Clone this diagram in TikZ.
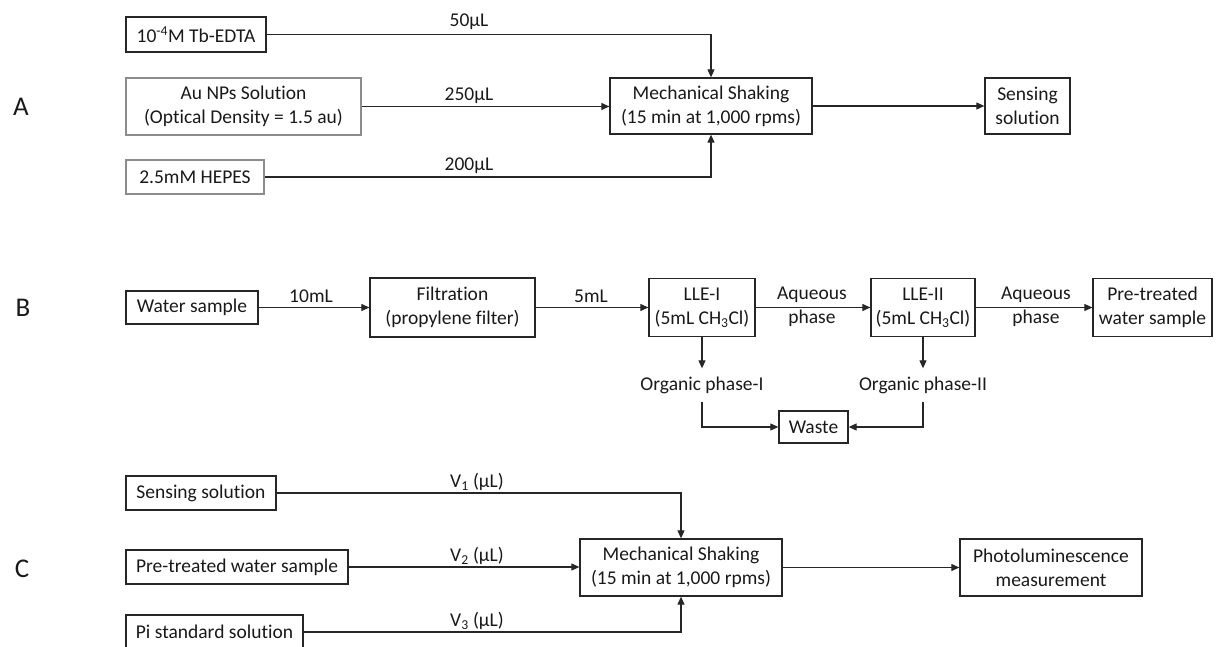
\documentclass[tikz,border=0pt]{standalone}
\usepackage{fontspec}
\setmainfont{Carlito}[Ligatures={NoCommon,NoContextual}]
\usetikzlibrary{arrows.meta}
\begin{document}
\begin{tikzpicture}[x=1pt,y=-1pt,
  every node/.style={font=\fontsize{19.5}{24}\selectfont, text=black!90},
  box/.style={draw=black!85, line width=1.3pt, align=center, inner sep=2pt, rectangle},
  greybox/.style={box, draw=black!45},
  lbl/.style={inner sep=0pt, anchor=base},
  txt/.style={inner sep=0pt, align=center},
  panel/.style={font=\fontsize{27}{30}\selectfont, inner sep=0pt},
  conn/.style={draw=black!85, line width=1.1pt},
  arr/.style={conn, -{Triangle[length=8pt,width=7pt]}}]
\useasboundingbox (0,0) rectangle (1216,647);

% ---------- Panel A ----------
\node[panel] (pA) at (21,107) {A};
\node[box, minimum width=140pt, minimum height=35pt] (tb) at (196,34.5) {10\textsuperscript{-4}M Tb-EDTA};
\node[greybox, minimum width=235pt, minimum height=57pt] (au) at (243.5,106.5) {Au NPs Solution\\(Optical Density = 1.5 au)};
\node[greybox, minimum width=138pt, minimum height=34pt] (hepes) at (195,177) {2.5mM HEPES};
\node[box, minimum width=202pt, minimum height=56pt] (mechA) at (711,106) {Mechanical Shaking\\(15 min at 1,000 rpms)};
\node[box, minimum width=85pt, minimum height=56pt] (sensA) at (1027.5,106) {Sensing\\solution};

\draw[arr] (tb.east) -| (mechA.north);
\draw[arr] (au.east) -- (au.east -| mechA.west);
\draw[arr] (hepes.east) -| (mechA.south);
\draw[arr] (mechA.east) -- (sensA.west);
\node[lbl] (l50) at (469,27) {50μL};
\node[lbl] (l250) at (469,101) {250μL};
\node[lbl] (l200) at (469,171) {200μL};

% ---------- Panel B ----------
\node[panel] (pB) at (23,308) {B};
\node[box, minimum width=132pt, minimum height=33pt] (water) at (192,307.5) {Water sample};
\node[box, minimum width=165pt, minimum height=59pt] (filt) at (452.5,307.5) {Filtration\\(propylene filter)};
\node[box, minimum width=106pt, minimum height=58pt] (lle1) at (702,307.5) {LLE-I\\(5mL CH\textsubscript{3}Cl)};
\node[box, minimum width=104pt, minimum height=58pt] (lle2) at (923,307.5) {LLE-II\\(5mL CH\textsubscript{3}Cl)};
\node[box, minimum width=119pt, minimum height=58pt, inner sep=1pt] (pre) at (1152.5,307.5) {Pre-treated\\water sample};
\node[box, minimum width=69pt, minimum height=32pt] (waste) at (813.5,427) {Waste};
\node[txt, inner ysep=8pt] (org1) at (702,385) {Organic phase-I};
\node[txt, inner ysep=8pt] (org2) at (923,385) {Organic phase-II};

\draw[arr] (water.east) -- (filt.west);
\draw[arr] (filt.east) -- (lle1.west);
\draw[arr] (lle1.east) -- (lle2.west);
\draw[arr] (lle2.east) -- (pre.west);
\draw[arr] (lle1.south) -- (org1.north);
\draw[arr] (lle2.south) -- (org2.north);
\draw[arr] (org1.south) |- (waste.west);
\draw[arr] (org2.south) |- (waste.east);
\node[lbl] (l10) at (311,302) {10mL};
\node[lbl] (l5) at (591,302) {5mL};
\node[txt] (aq1) at (812,307) {Aqueous\\phase};
\node[txt] (aq2) at (1036,307) {Aqueous\\phase};

% ---------- Panel C ----------
\node[panel] (pC) at (22,569) {C};
\node[box, minimum width=150pt, minimum height=34pt] (sensC) at (201,493) {Sensing solution};
\node[box, minimum width=222pt, minimum height=34pt] (preC) at (237,567) {Pre-treated water sample};
\node[box, minimum width=177pt, minimum height=34pt] (pi) at (214.5,632) {Pi standard solution};
\node[box, minimum width=202pt, minimum height=57pt] (mechC) at (681,567.5) {Mechanical Shaking\\(15 min at 1,000 rpms)};
\node[box, minimum width=182pt, minimum height=57pt] (photo) at (1051,567.5) {Photoluminescence\\measurement};

\draw[arr] (sensC.east) -| (mechC.north);
\draw[arr] (preC.east) -- (preC.east -| mechC.west);
\draw[arr] (pi.east) -| (mechC.south);
\draw[arr] (mechC.east) -- (photo.west);
\node[lbl] (v1) at (477,487) {V\textsubscript{1} (μL)};
\node[lbl] (v2) at (477,561) {V\textsubscript{2} (μL)};
\node[lbl] (v3) at (477,626) {V\textsubscript{3} (μL)};
\end{tikzpicture}
\end{document}
